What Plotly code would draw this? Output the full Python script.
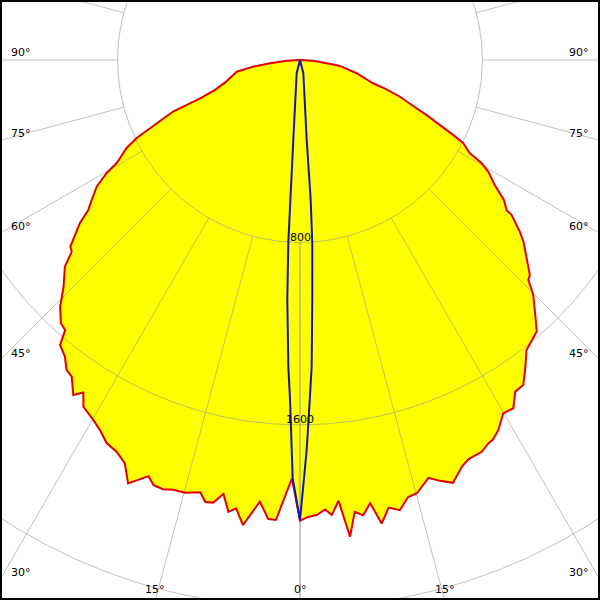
import numpy as np
import plotly.graph_objects as go

# ---- data (angle from nadir in degrees, luminous intensity in cd) ----
red_left_angle = [0, 1.1, 3.0, 3.95, 5.2, 7.0, 8.1, 9.0, 10.0, 11.1, 12.1, 13.0, 14.9, 16.4, 17.7,
                  19.0, 20.0, 21.2, 22.1, 23.5, 25.1, 26.8, 28.4, 29.9, 32.0, 33.1, 34.1, 35.8,
                  37.0, 38.4, 40.1, 41.0, 42.3, 44.2, 46.2, 48.7, 50.0, 50.9, 53.5, 54.7, 56.1,
                  58.1, 59.7, 60.7, 63.1, 64.5, 65.6, 67.9, 69.0, 70.6, 73.2, 79.5, 81.9, 83.7,
                  87.0, 90]
red_left_cd = [2018, 1835, 2020, 2018, 1945, 2055, 1986, 2006, 1933, 1978, 1982, 1945, 1964, 1965,
               1976, 1972, 1942, 1976, 2004, 1928, 1897, 1882, 1845, 1820, 1793, 1741, 1774, 1712,
               1702, 1660, 1634, 1570, 1559, 1509, 1437, 1373, 1307, 1298, 1201, 1138, 1101,
               1050, 982, 921, 853, 794, 722, 601, 469, 395, 344, 282, 208, 132, 58, 0]

red_right_angle = [0, 1.0, 2.1, 3.2, 4.0, 5.0, 6.0, 6.9, 7.9, 9.0, 10.0, 11.2, 12.5, 13.9, 15.1,
                   17.1, 18.4, 19.9, 21.7, 22.9, 24.9, 26.2, 27.0, 28.2, 29.9, 31.5, 33.0, 34.5,
                   36.0, 38.0, 41.1, 42.9, 44.8, 46.1, 46.9, 50.9, 52.0, 53.8, 54.0, 55.5, 57.3,
                   59.3, 60.4, 61.2, 63.0, 63.9, 65.1, 66.5, 67.9, 69.8, 71.3, 72.3, 76.8, 81.5,
                   83.0, 87.0, 90]
red_right_cd = [2021, 2004, 1997, 1974, 2000, 1940, 2102, 1996, 2015, 1968, 2064, 2001, 2022, 1974,
                1968, 1917, 1945, 1972, 1920, 1900, 1894, 1873, 1867, 1841, 1788, 1791, 1734, 1729,
                1680, 1614, 1580, 1515, 1452, 1390, 1381, 1263, 1224, 1151, 1120, 1086, 1016,
                961, 917, 850, 804, 749, 677, 606, 536, 467, 401, 336, 255, 177, 118, 57, 0]

blue_left_angle = [0, 1.0, 1.22, 1.68, 2.18, 3.03, 3.66, 4.1, 4.8, 14, 90]
blue_left_cd = [2018, 1835, 1711, 1491, 1346, 1053, 803, 614, 351, 60, 0]
blue_right_angle = [0, 0.45, 0.98, 1.46, 2.18, 2.93, 3.85, 4.37, 4.8, 14, 90]
blue_right_cd = [2018, 1857, 1711, 1548, 1346, 1053, 803, 614, 351, 60, 0]

ring_values = [800, 1600, 2400]
ring_labels = ["800", "1600"]
spoke_angles = list(range(0, 181, 15))
angle_label_values = [0, 15, 30, 45, 60, 75, 90]

# ---- view (cd units) ----
X_HALF = 1316.0
Y_TOP = 263.0
Y_BOTTOM = -2368.0


def to_xy(angles, cds, side):
    a = np.radians(np.asarray(angles, dtype=float))
    r = np.asarray(cds, dtype=float)
    return side * r * np.sin(a), -r * np.cos(a)


fig = go.Figure()

# red curve polygon: left from 90 down to 0, then right from 0 to 90
lx, ly = to_xy(red_left_angle[::-1], red_left_cd[::-1], -1)
rx, ry = to_xy(red_right_angle, red_right_cd, 1)
px = np.concatenate([lx, rx])
py = np.concatenate([ly, ry])

fig.add_trace(go.Scatter(x=px, y=py, mode="lines", fill="toself", fillcolor="#ffff00",
                         line=dict(width=0, color="rgba(0,0,0,0)"), hoverinfo="skip"))

grid_color = "rgba(150,150,150,0.6)"
# grid circles
t = np.linspace(0, 2 * np.pi, 721)
for rv in ring_values:
    fig.add_trace(go.Scatter(x=rv * np.cos(t), y=rv * np.sin(t), mode="lines",
                             line=dict(color=grid_color, width=1), hoverinfo="skip"))
# spokes from first ring outwards
r_in = ring_values[0]
r_out = 6000
for side in (-1, 1):
    for ang in spoke_angles:
        sx, sy = to_xy([ang, ang], [r_in, r_out], side)
        fig.add_trace(go.Scatter(x=sx, y=sy, mode="lines",
                                 line=dict(color=grid_color, width=1), hoverinfo="skip"))

# red outline
fig.add_trace(go.Scatter(x=px, y=py, mode="lines", line=dict(color="#e00000", width=2),
                         hoverinfo="skip"))

# blue curve
blx, bly = to_xy(blue_left_angle[::-1], blue_left_cd[::-1], -1)
brx, bry = to_xy(blue_right_angle, blue_right_cd, 1)
fig.add_trace(go.Scatter(x=np.concatenate([blx, brx]), y=np.concatenate([bly, bry]),
                         mode="lines", line=dict(color="#1414b4", width=2), hoverinfo="skip"))

annotations = []
font = dict(family="DejaVu Sans", size=11, color="black")
# ring labels
for rv, lab in zip(ring_values, ring_labels):
    annotations.append(dict(x=0, y=-rv, text=lab, showarrow=False, font=font,
                            xanchor="center", yanchor="middle", yshift=5))


# angle labels where the spokes leave the frame
def exit_point(ang, side):
    a = np.radians(ang)
    dx, dy = side * np.sin(a), -np.cos(a)
    ts = []
    if abs(dx) > 1e-9:
        ts.append((X_HALF / abs(dx), "side"))
    if dy < -1e-9:
        ts.append((Y_BOTTOM / dy, "bottom"))
    tmin, where = min(ts)
    return tmin * dx, tmin * dy, where


for ang in angle_label_values:
    sides = (1,) if ang == 0 else (-1, 1)
    for side in sides:
        ex, ey, where = exit_point(ang, side)
        if where == "bottom":
            annotations.append(dict(x=ex, y=Y_BOTTOM, text=f"{ang}°", showarrow=False, font=font,
                                    xanchor="center", yanchor="middle", yshift=11))
        else:
            annotations.append(dict(x=ex, y=ey, text=f"{ang}°", showarrow=False, font=font,
                                    xanchor="left" if side < 0 else "right",
                                    yanchor="middle", xshift=9 * (-side), yshift=7))

fig.update_layout(
    width=600, height=600,
    margin=dict(l=0, r=0, t=0, b=0),
    paper_bgcolor="white", plot_bgcolor="white",
    showlegend=False,
    xaxis=dict(range=[-X_HALF, X_HALF], visible=False, fixedrange=True),
    yaxis=dict(range=[Y_BOTTOM, Y_TOP], visible=False, fixedrange=True),
    annotations=annotations,
    shapes=[dict(type="rect", xref="paper", yref="paper", x0=0, y0=0, x1=1, y1=1,
                 line=dict(color="black", width=4), layer="above")],
)

fig.write_html("out.html", config={"displayModeBar": False},
               post_script="document.body.style.margin='0';document.body.style.padding='0';")
